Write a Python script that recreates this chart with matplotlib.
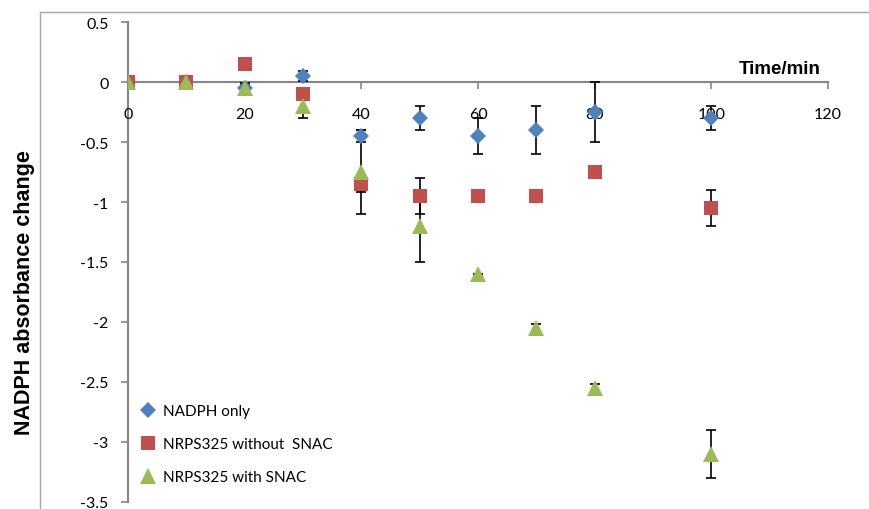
import matplotlib
matplotlib.use("Agg")
import matplotlib.pyplot as plt
from matplotlib.lines import Line2D

# Sampling times (min)
time_min = [0, 10, 20, 30, 40, 50, 60, 70, 80, 100]

# NADPH absorbance change and standard deviations
nadph_only = [0, 0, -0.05, 0.05, -0.45, -0.30, -0.45, -0.40, -0.25, -0.30]
nadph_only_err = [0, 0, 0.04, 0.04, 0.05, 0.10, 0.15, 0.20, 0.25, 0.10]

without_snac = [0, 0, 0.15, -0.10, -0.85, -0.95, -0.95, -0.95, -0.75, -1.05]
without_snac_err = [0, 0, 0, 0, 0.07, 0.15, 0, 0, 0.05, 0.15]

with_snac = [0, 0, -0.05, -0.20, -0.75, -1.20, -1.60, -2.05, -2.55, -3.10]
with_snac_err = [0, 0, 0.03, 0.10, 0.35, 0.30, 0, 0.03, 0.03, 0.20]

series_labels = ["NADPH only", "NRPS325 without  SNAC", "NRPS325 with SNAC"]
x_ticks = [0, 20, 40, 60, 80, 100, 120]
y_ticks = [0.5, 0, -0.5, -1, -1.5, -2, -2.5, -3, -3.5]

W, H = 869, 510
fig = plt.figure(figsize=(W / 100, H / 100), dpi=100)
ax = fig.add_axes([128 / W, 1 - 503 / H, 700 / W, 480 / H])

# chart-area frame
frame_col = "#a6a6a6"
fig.add_artist(Line2D([40 / W, 40 / W], [0, 1 - 13 / H], color=frame_col, lw=1.0,
                      transform=fig.transFigure))
fig.add_artist(Line2D([40 / W, 1], [1 - 13 / H, 1 - 13 / H], color=frame_col, lw=1.0,
                      transform=fig.transFigure))

styles = [
    (nadph_only, nadph_only_err, "D", 8.5, "#4F81BD"),
    (without_snac, without_snac_err, "s", 10.5, "#C0504D"),
    (with_snac, with_snac_err, "^", 11.5, "#9BBB59"),
]

for vals, errs, mk, ms, col in styles:
    ax.errorbar(time_min, vals, yerr=errs, fmt="none", ecolor="black",
                elinewidth=1.2, capsize=3.5, capthick=1.2, zorder=2)

handles = []
for (vals, errs, mk, ms, col), lab in zip(styles, series_labels):
    h, = ax.plot(time_min, vals, linestyle="none", marker=mk, markersize=ms,
                 color=col, markeredgewidth=0, label=lab, zorder=3)
    handles.append(h)

ax.set_xlim(0, 120)
ax.set_ylim(-3.5, 0.5)
ax.set_xticks(x_ticks)
ax.set_yticks(y_ticks)
ax.set_xticklabels([str(v) for v in x_ticks])
ax.set_yticklabels([f"{v:g}" for v in y_ticks])

axis_col = "#868686"
ax.spines["top"].set_visible(False)
ax.spines["right"].set_visible(False)
ax.spines["bottom"].set_position(("data", 0))
for s in ("left", "bottom"):
    ax.spines[s].set_color(axis_col)
    ax.spines[s].set_linewidth(1.5)
    ax.spines[s].set_zorder(1)

ax.tick_params(axis="both", direction="out", length=5, width=1.2, color=axis_col,
               labelsize=11.5, labelcolor="black")
ax.tick_params(axis="x", pad=13)
ax.tick_params(axis="y", pad=9)
for lbl in ax.get_xticklabels() + ax.get_yticklabels():
    lbl.set_family("Lato")
ax.patch.set_visible(False)

fig.text(25 / W, 1 - 293 / H, "NADPH absorbance change", rotation=90,
         ha="center", va="center", fontsize=15.5, fontweight="bold",
         family="Liberation Sans")
fig.text(821 / W, 1 - 70 / H, "Time/min", ha="right", va="center",
         fontsize=13.5, fontweight="bold", family="Liberation Sans")

leg = ax.legend(handles=handles, loc="upper left", bbox_to_anchor=(140 / W, 1 - 405 / H),
                bbox_transform=fig.transFigure, frameon=False,
                prop={"family": "Lato", "size": 11}, handlelength=1.0,
                handletextpad=0.5, labelspacing=1.25, borderaxespad=0, borderpad=0)

fig.savefig("out.png", dpi=100)
